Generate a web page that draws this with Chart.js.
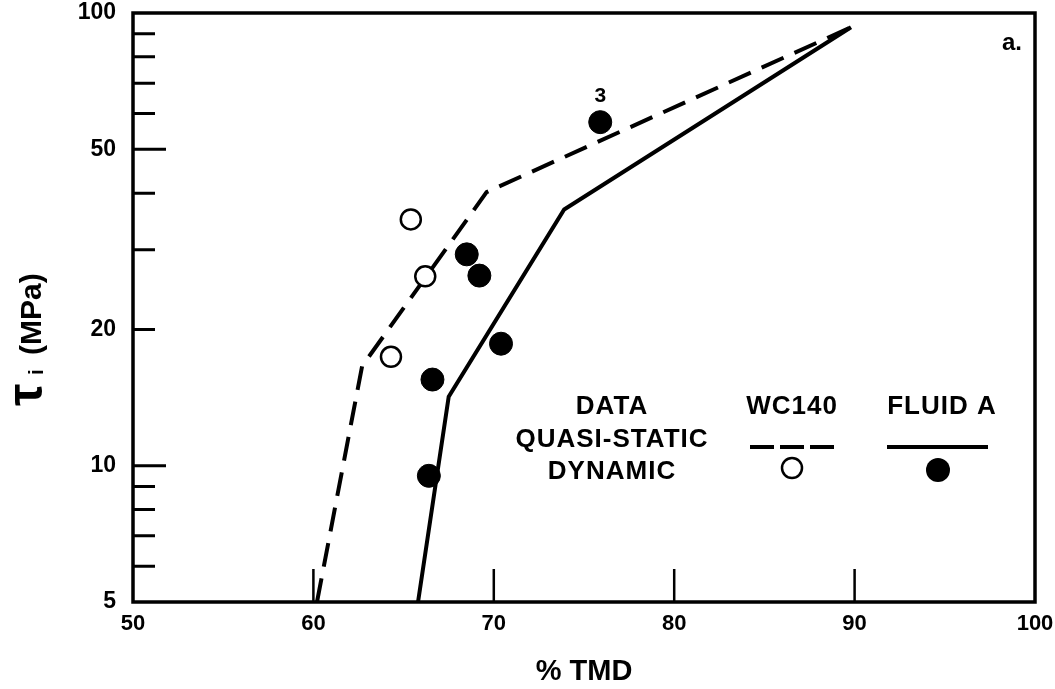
<!DOCTYPE html>
<html>
    <head>
        <title>Tau vs TMD</title>
        <meta name="viewport" content="width=device-width, initial-scale=1">
        <style>
            html, body { margin: 0; padding: 0; background: #fff; }
            .chart-box { width: 1055px; height: 689px; }
        </style>
    </head>
    <body>
        <div class="chart-box">
            <canvas id="tmdChart"></canvas>
        </div>
        <script src="https://cdn.jsdelivr.net/npm/chart.js"></script>
        <script>
            // values (% TMD, tau_i in MPa)
            const wcLineX = [60.2, 62.7, 69.6, 89.8];
            const wcLineY = [5, 16.6, 40.2, 93];
            const fluidLineX = [65.8, 67.5, 73.9, 89.8];
            const fluidLineY = [5, 14.2, 36.8, 93];
            const wcDynX = [65.4, 66.2, 64.3];
            const wcDynY = [35.0, 26.2, 17.4];
            const fluidDynX = [75.9, 68.5, 69.2, 70.4, 66.6, 66.4];
            const fluidDynY = [57.4, 29.3, 26.3, 18.6, 15.5, 9.5];
            const pointNotes = ['3', '', '', '', '', ''];
            const yLabelTicks = [5, 10, 20, 50, 100];
            const yLongTicks = [10, 50];
            const yShortTicks = [6, 7, 8, 9, 20, 30, 40, 60, 70, 80, 90];
            const xInnerTicks = [60, 70, 80, 90];

            const toPoints = (xs, ys) => xs.map((x, i) => ({ x: x, y: ys[i] }));
            const FONT = "'Liberation Sans', Arial, sans-serif";

            const framePlugin = {
                id: 'framePlugin',
                afterDraw(chart) {
                    const ctx = chart.ctx;
                    const a = chart.chartArea;
                    const xs = chart.scales.x;
                    const ys = chart.scales.y;
                    ctx.save();
                    ctx.strokeStyle = '#000';
                    ctx.lineWidth = 3.5;
                    ctx.strokeRect(a.left, a.top, a.right - a.left, a.bottom - a.top);

                    // inward tick marks
                    ctx.lineWidth = 3;
                    ctx.beginPath();
                    yShortTicks.forEach(v => {
                        const y = ys.getPixelForValue(v);
                        ctx.moveTo(a.left, y); ctx.lineTo(a.left + 22, y);
                    });
                    yLongTicks.forEach(v => {
                        const y = ys.getPixelForValue(v);
                        ctx.moveTo(a.left, y); ctx.lineTo(a.left + 33, y);
                    });
                    ctx.stroke();
                    ctx.lineWidth = 2.5;
                    ctx.beginPath();
                    xInnerTicks.forEach(v => {
                        const x = xs.getPixelForValue(v);
                        ctx.moveTo(x, a.bottom); ctx.lineTo(x, a.bottom - 33);
                    });
                    ctx.stroke();

                    // y axis title: tau with subscript i
                    ctx.fillStyle = '#000';
                    ctx.translate(43, 406);
                    ctx.rotate(-Math.PI / 2);
                    ctx.textBaseline = 'alphabetic';
                    ctx.textAlign = 'left';
                    ctx.font = 'bold 50px ' + FONT;
                    ctx.fillText('τ', 0, -1);
                    ctx.font = 'bold 21px ' + FONT;
                    ctx.fillText('i', 31, 0);
                    ctx.font = 'bold 30px ' + FONT;
                    ctx.fillText('(MPa)', 51, -2);
                    ctx.restore();

                    // panel letter and point note
                    ctx.save();
                    ctx.fillStyle = '#000';
                    ctx.textAlign = 'center';
                    ctx.textBaseline = 'middle';
                    ctx.font = 'bold 24px ' + FONT;
                    ctx.fillText('a.', a.right - 23, a.top + 30);
                    ctx.font = 'bold 21px ' + FONT;
                    pointNotes.forEach((t, i) => {
                        if (!t) return;
                        ctx.fillText(t, xs.getPixelForValue(fluidDynX[i]), ys.getPixelForValue(fluidDynY[i]) - 26);
                    });

                    // key block
                    const kx = a.left;
                    const ky = a.top;
                    ctx.font = 'bold 26px ' + FONT;
                    ctx.letterSpacing = '1px';
                    ctx.fillText('DATA', kx + 479, ky + 394);
                    ctx.fillText('QUASI-STATIC', kx + 479, ky + 427);
                    ctx.fillText('DYNAMIC', kx + 479, ky + 459);
                    ctx.fillText('WC140', kx + 659, ky + 394);
                    ctx.fillText('FLUID A', kx + 809, ky + 394);
                    ctx.lineWidth = 4;
                    ctx.strokeStyle = '#000';
                    ctx.setLineDash([24, 6]);
                    ctx.beginPath();
                    ctx.moveTo(kx + 617, ky + 434); ctx.lineTo(kx + 702, ky + 434);
                    ctx.stroke();
                    ctx.setLineDash([]);
                    ctx.beginPath();
                    ctx.moveTo(kx + 754, ky + 434); ctx.lineTo(kx + 855, ky + 434);
                    ctx.stroke();
                    ctx.lineWidth = 2.5;
                    ctx.beginPath();
                    ctx.arc(kx + 659, ky + 455, 10, 0, Math.PI * 2);
                    ctx.stroke();
                    ctx.beginPath();
                    ctx.arc(kx + 805, ky + 457, 12, 0, Math.PI * 2);
                    ctx.fill();
                    ctx.restore();
                }
            };

            const tmdCanvas = document.getElementById('tmdChart');
            const tmdChart = new Chart(tmdCanvas, {
                type: 'scatter',
                data: {
                    datasets: [
                        {
                            label: 'WC140 dynamic',
                            data: toPoints(wcDynX, wcDynY),
                            pointRadius: 10,
                            pointBackgroundColor: '#fff',
                            pointBorderColor: '#000',
                            pointBorderWidth: 2.5,
                            showLine: false
                        },
                        {
                            label: 'Fluid A dynamic',
                            data: toPoints(fluidDynX, fluidDynY),
                            pointRadius: 11.5,
                            pointBackgroundColor: '#000',
                            pointBorderColor: '#000',
                            pointBorderWidth: 1,
                            showLine: false
                        },
                        {
                            label: 'WC140 quasi-static',
                            data: toPoints(wcLineX, wcLineY),
                            showLine: true,
                            borderColor: '#000',
                            borderWidth: 4,
                            borderDash: [24, 12],
                            pointRadius: 0,
                            tension: 0
                        },
                        {
                            label: 'Fluid A quasi-static',
                            data: toPoints(fluidLineX, fluidLineY),
                            showLine: true,
                            borderColor: '#000',
                            borderWidth: 4,
                            pointRadius: 0,
                            tension: 0
                        }
                    ]
                },
                options: {
                    responsive: true,
                    maintainAspectRatio: false,
                    animation: false,
                    layout: { padding: { left: 78, top: 13, right: 20, bottom: 0 } },
                    plugins: {
                        legend: { display: false },
                        tooltip: { enabled: false }
                    },
                    scales: {
                        x: {
                            type: 'linear',
                            min: 50,
                            max: 100,
                            grid: { display: false, drawTicks: false },
                            border: { display: false },
                            afterFit: (scale) => {
                                scale.height = 87;
                                scale.paddingLeft = 0;
                                scale.paddingRight = 0;
                            },
                            ticks: {
                                stepSize: 10,
                                padding: 9,
                                color: '#000',
                                font: { family: FONT, size: 22, weight: 'bold' }
                            },
                            title: {
                                display: true,
                                text: '% TMD',
                                color: '#000',
                                padding: { top: 15, bottom: 0 },
                                font: { family: FONT, size: 29, weight: 'bold' }
                            }
                        },
                        y: {
                            type: 'logarithmic',
                            min: 5,
                            max: 100,
                            grid: { display: false, drawTicks: false },
                            border: { display: false },
                            afterFit: (scale) => {
                                scale.width = 55;
                                scale.paddingTop = 0;
                                scale.paddingBottom = 0;
                            },
                            afterBuildTicks: (scale) => {
                                scale.ticks = yLabelTicks.map(v => ({ value: v }));
                            },
                            ticks: {
                                padding: 17,
                                color: '#000',
                                font: { family: FONT, size: 23, weight: 'bold' },
                                callback: (v) => String(v)
                            }
                        }
                    }
                },
                plugins: [framePlugin]
            });
        </script>
    </body>
</html>
